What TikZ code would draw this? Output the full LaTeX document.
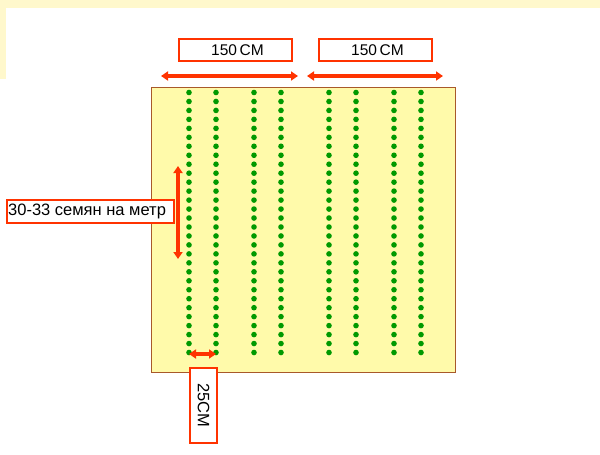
\documentclass[tikz,border=0pt]{standalone}
\usepackage{fontspec}
\setmainfont{Liberation Sans}
\usetikzlibrary{arrows.meta}
\definecolor{bgyel}{HTML}{FFF8CC}
\definecolor{field}{HTML}{FFFAAA}
\definecolor{fieldedge}{HTML}{A8592A}
\definecolor{dotg}{HTML}{009900}
\definecolor{redl}{HTML}{FF3300}
\tikzset{
  lbl/.style={draw=redl, line width=2pt, fill=white, inner sep=0pt, font=\fontsize{16.5}{18}\selectfont},
  dimarrow/.style={draw=redl, line width=3.5pt, {Triangle[length=7pt,width=9pt]}-{Triangle[length=7pt,width=9pt]}},
  seed/.style={fill=dotg, draw=none}
}
\begin{document}
\begin{tikzpicture}[x=1pt,y=-1pt]
\useasboundingbox (0,0) rectangle (600,455);
% background strips
\fill[bgyel] (0,0) rectangle (600,8);
\fill[bgyel] (0,0) rectangle (6,79);
% field
\node[draw=fieldedge, line width=1.2pt, fill=field, minimum width=304pt, minimum height=285pt, inner sep=0pt, anchor=north west] (field) at (151,87) {};
% seed dots
\foreach \x in {189,216,254,281,329,356,394,421}{
  \foreach \i in {0,...,29}{
    \fill[seed] (\x,{92.5+\i*8.966}) circle (2.8pt);
  }
}
% top labels
\node[lbl, font=\fontsize{15.5}{17}\selectfont, minimum width=113pt, minimum height=22pt, anchor=north west] (l1) at (178,38) {\hspace{4pt}150\,CM};
\node[lbl, font=\fontsize{15.5}{17}\selectfont, minimum width=113pt, minimum height=22pt, anchor=north west] (l2) at (318,38) {\hspace{4pt}150\,CM};
\coordinate (a1s) at (161,76);
\coordinate (a1e) at (298,76);
\coordinate (a2s) at (307,76);
\coordinate (a2e) at (443,76);
\draw[dimarrow] (a1s) -- (a1e);
\draw[dimarrow] (a2s) -- (a2e);
% left label
\node[lbl, minimum width=167pt, minimum height=23pt, anchor=north west] (l3) at (6,199) {};
\node[font=\fontsize{16.5}{18}\selectfont, inner sep=0pt, anchor=west] (t3) at ([xshift=2pt]l3.west) {30-33 семян на метр};
\coordinate (v1) at (178,166);
\coordinate (v2) at (178,259);
\draw[dimarrow] (v1) -- (v2);
% bottom
\coordinate (b1) at (189,354);
\coordinate (b2) at (216,354);
\draw[dimarrow] (b1) -- (b2);
\node[lbl, minimum width=27pt, minimum height=75pt, anchor=north west] (l4) at (189,367) {};
\node[rotate=-90, font=\fontsize{16.5}{18}\selectfont, inner sep=0pt] (t4) at (l4.center) {25CM};
\end{tikzpicture}
\end{document}
